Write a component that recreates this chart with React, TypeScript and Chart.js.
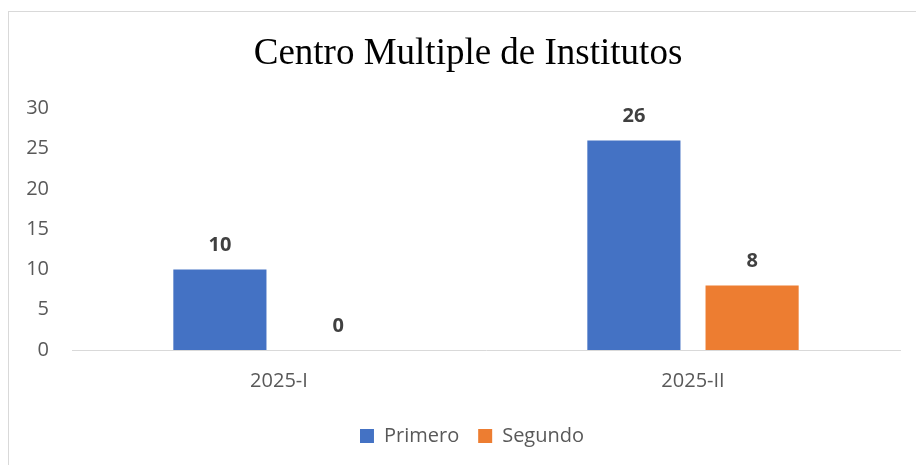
import React, { useEffect, useRef } from "react";
import { Chart, registerables } from "chart.js";

Chart.register(...registerables);

const title = "Centro Multiple de Institutos";
const categories = ["2025-I", "2025-II"];
const seriesNames = ["Primero", "Segundo"];
const primero = [10, 26];
const segundo = [0, 8];
const seriesColors = ["#4472C4", "#ED7D31"];
const yMin = 0;
const yMax = 30;
const yStep = 5;

const dataLabels = {
  id: "dataLabels",
  afterDatasetsDraw(chart: any) {
    const ctx = chart.ctx;
    ctx.save();
    ctx.font = "bold 20px 'Open Sans'";
    ctx.fillStyle = "#404040";
    ctx.textAlign = "center";
    ctx.textBaseline = "middle";
    chart.data.datasets.forEach((ds: any, i: number) => {
      const meta = chart.getDatasetMeta(i);
      meta.data.forEach((el: any, j: number) => {
        ctx.fillText(String(ds.data[j]), el.x, el.y - 24);
      });
    });
    ctx.restore();
  },
};

const boxShift = {
  id: "boxShift",
  afterLayout(chart: any) {
    if (chart.legend) {
      chart.legend.left += 9;
      chart.legend.right += 9;
    }
    if (chart.titleBlock) {
      chart.titleBlock.left += 5;
      chart.titleBlock.right += 5;
    }
  },
};

export default function App() {
  const ref = useRef<HTMLCanvasElement | null>(null);
  useEffect(() => {
    if (!ref.current) return;
    const chart = new Chart(ref.current, {
      type: "bar",
      data: {
        labels: categories,
        datasets: [
          { label: seriesNames[0], data: primero, backgroundColor: seriesColors[0], borderWidth: 0, categoryPercentage: 0.571, barPercentage: 0.788 },
          { label: seriesNames[1], data: segundo, backgroundColor: seriesColors[1], borderWidth: 0, categoryPercentage: 0.571, barPercentage: 0.788 },
        ],
      },
      options: {
        animation: false,
        responsive: false,
        maintainAspectRatio: false,
        layout: { padding: { left: 17, right: 27, top: 0, bottom: 0 } },
        plugins: {
          title: {
            display: true,
            text: title,
            color: "#000000",
            font: { family: "'Liberation Serif', 'Times New Roman', serif", size: 37, weight: "normal" },
            padding: { top: 20, bottom: 32 },
          },
          legend: {
            position: "bottom",
            labels: {
              color: "#595959",
              font: { family: "'Open Sans'", size: 20 },
              boxWidth: 14,
              boxHeight: 14,
              padding: 19,
            },
          },
          tooltip: { enabled: false },
        },
        scales: {
          x: {
            grid: { display: false, drawTicks: false },
            border: { display: true, color: "#D9D9D9", width: 1 },
            ticks: { color: "#595959", font: { family: "'Open Sans'", size: 20 }, padding: 19 },
            afterFit: (scale: any) => { scale.height -= 5; },
          },
          y: {
            min: yMin,
            max: yMax,
            grid: { display: false, drawTicks: false },
            border: { display: false },
            ticks: { stepSize: yStep, color: "#595959", font: { family: "'Open Sans'", size: 20 }, padding: 23 },
            afterFit: (scale: any) => { scale.width = 46; },
          },
        },
      },
      plugins: [dataLabels, boxShift],
    });
    return () => chart.destroy();
  }, []);
  return (
    <div style={{ position: "fixed", left: 0, top: 0, width: 916, height: 465, overflow: "hidden", background: "#fff" }}>
      <div style={{ position: "absolute", left: 8, top: 11, width: 940, height: 480, borderLeft: "1px solid #D9D9D9", borderTop: "1px solid #D9D9D9" }}>
        <canvas ref={ref} width={918} height={444} style={{ display: "block", width: 918, height: 444 }} />
      </div>
    </div>
  );
}
